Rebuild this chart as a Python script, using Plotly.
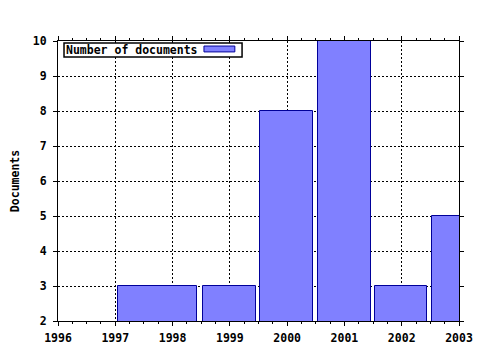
import plotly.graph_objects as go

years = [1998, 1999, 2000, 2001, 2002, 2003]
documents = [3, 3, 8, 10, 3, 5]
bar_offsets = [-0.95, -0.47, -0.47, -0.47, -0.47, -0.47]
bar_widths = [1.37, 0.93, 0.92, 0.93, 0.92, 0.92]
x_ticks = [1996, 1997, 1998, 1999, 2000, 2001, 2002, 2003]
y_ticks = [2, 3, 4, 5, 6, 7, 8, 9, 10]
series_name = "Number of documents"

FONT = "DejaVu Sans Mono"

fig = go.Figure()
fig.add_trace(go.Bar(
    x=years, y=documents, offset=bar_offsets, width=bar_widths,
    marker=dict(color="#8080ff", line=dict(color="#000099", width=1)),
    name=series_name, showlegend=False,
))

axis_common = dict(
    showline=True, linecolor="black", linewidth=1, mirror="ticks",
    ticks="outside", tickcolor="black", ticklen=4, tickwidth=1,
    showgrid=True, gridcolor="black", gridwidth=1, griddash="2px,2px",
    zeroline=False, automargin=False,
    tickfont=dict(family=FONT, size=11.5, color="black", weight="bold"),
)

fig.update_xaxes(
    range=[1996, 2003], tickvals=x_ticks, ticktext=[str(t) for t in x_ticks],
    minor=dict(dtick=0.25, tick0=1996, ticks="outside", ticklen=2, tickcolor="black", showgrid=False),
    ticklabelstandoff=2,
    **axis_common,
)
fig.update_yaxes(
    range=[2, 10], tickvals=y_ticks, ticktext=[str(t) for t in y_ticks],
    title=dict(text="Documents", font=dict(family=FONT, size=11.5, color="black", weight="bold"), standoff=10),
    ticklabelstandoff=4,
    **axis_common,
)

# legend box (text then swatch)
fig.add_shape(type="rect", xref="paper", yref="paper",
              x0=0.015, x1=0.459, y0=0.943, y1=0.993,
              line=dict(color="black", width=1.5), fillcolor="white", layer="above")
fig.add_shape(type="rect", xref="paper", yref="paper",
              x0=0.364, x1=0.441, y0=0.961, y1=0.982,
              line=dict(color="#000099", width=1), fillcolor="#8080ff", layer="above")
fig.add_annotation(xref="paper", yref="paper", x=0.016, y=0.968,
                   xanchor="left", yanchor="middle", showarrow=False,
                   text=series_name,
                   font=dict(family=FONT, size=11.5, color="black", weight="bold"))

fig.update_layout(
    width=480, height=350,
    margin=dict(l=58, r=21, t=41, b=29),
    plot_bgcolor="white", paper_bgcolor="white",
    bargap=0,
)

fig.write_html("out.html")
